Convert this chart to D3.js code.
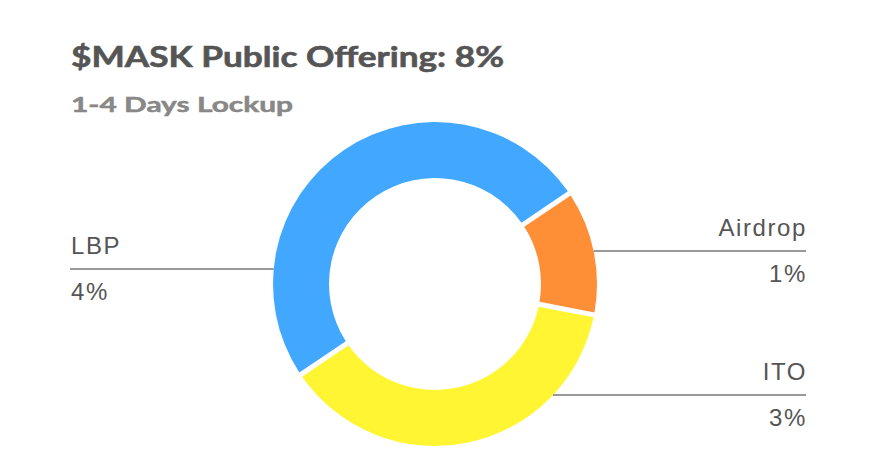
<!DOCTYPE html>
<html><head><meta charset="utf-8">
<script src="https://cdn.jsdelivr.net/npm/d3@7"></script>
<style>body{margin:0;background:#fff}</style>
</head><body>
<svg id="c" width="875" height="473"></svg>
<script>
const title = "$MASK Public Offering: 8%";
const subtitle = "1-4 Days Lockup";
const categories = ["LBP", "Airdrop", "ITO"];
const values = [4, 1, 3];
const valueLabels = ["4%", "1%", "3%"];
const colors = ["#42a8ff", "#ff8f36", "#fff533"];

const W = 875, H = 473;
const cx = 435, cy = 284, rOuter = 162, rInner = 106;
const svg = d3.select("#c");

svg.append("text").attr("x", 71).attr("y", 67)
  .attr("font-family", "Lato, 'Open Sans', sans-serif").attr("font-weight", 700)
  .attr("font-size", 28).attr("fill", "#555").attr("stroke", "#555").attr("stroke-width", 0.6)
  .attr("textLength", 433).attr("lengthAdjust","spacingAndGlyphs").text(title);
svg.append("text").attr("x", 71).attr("y", 112)
  .attr("font-family", "Lato, 'Open Sans', sans-serif").attr("font-weight", 700)
  .attr("font-size", 21).attr("fill", "#888").attr("stroke", "#888").attr("stroke-width", 0.5)
  .attr("textLength", 222).attr("lengthAdjust","spacingAndGlyphs").text(subtitle);

const data = categories.map((c, i) => ({name: c, value: values[i], label: valueLabels[i], color: colors[i]}));
const start = -124 * Math.PI / 180;
const pie = d3.pie().sort(null).value(d => d.value).startAngle(start).endAngle(start + 2 * Math.PI);
const arc = d3.arc().innerRadius(rInner).outerRadius(rOuter).padAngle(5 / rOuter).padRadius(rOuter);
const arcs = pie(data);

const g = svg.append("g").attr("transform", `translate(${cx},${cy})`);
g.selectAll("path").data(arcs).join("path").attr("d", arc).attr("fill", d => d.data.color);

const lineY = {"LBP": -15, "Airdrop": -33, "ITO": 111};
const side = {"LBP": "left", "Airdrop": "right", "ITO": "right"};
const leftX = 70, rightX = 806;
const font = "'Liberation Sans', Arial, sans-serif";
arcs.forEach(a => {
  const name = a.data.name;
  const dy = lineY[name];
  const dx = Math.sqrt(rOuter * rOuter - dy * dy);
  const y = cy + dy;
  const isLeft = side[name] === "left";
  const x1 = isLeft ? leftX : cx + dx;
  const x2 = isLeft ? cx - dx : rightX;
  svg.append("line").attr("x1", x1).attr("x2", x2).attr("y1", y).attr("y2", y)
    .attr("stroke", "#777").attr("stroke-width", 1.3);
  const tx = isLeft ? leftX + 1 : rightX + 1;
  const anchor = isLeft ? "start" : "end";
  svg.append("text").attr("x", tx).attr("y", y - 15).attr("text-anchor", anchor)
    .attr("font-family", font).attr("font-size", 24).attr("letter-spacing", 1.6).attr("fill", "#555").text(name);
  svg.append("text").attr("x", tx).attr("y", y + 31).attr("text-anchor", anchor)
    .attr("font-family", font).attr("font-size", 24).attr("letter-spacing", 1.6).attr("fill", "#555").text(a.data.label);
});
</script>
</body></html>
